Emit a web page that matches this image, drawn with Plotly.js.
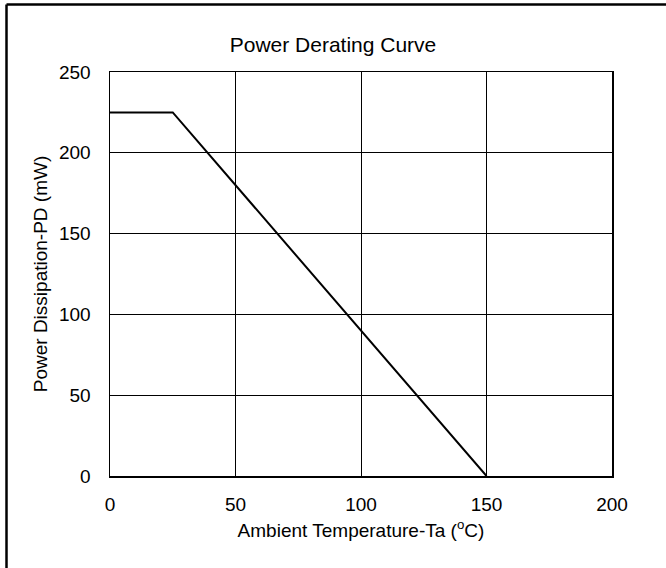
<!DOCTYPE html>
<html>
<head>
<meta charset="utf-8">
<script src="https://cdn.plot.ly/plotly-3.0.1.min.js"></script>
<style>html,body{margin:0;padding:0;background:#fff;}#chart{width:666px;height:568px;}</style>
</head>
<body>
<div id="chart"></div>
<script>
const temperature = [0, 25, 150];
const powerMW = [225, 225, 0];
const xTicks = [0, 50, 100, 150, 200];
const yTicks = [0, 50, 100, 150, 200, 250];

const L = 110, R = 612, T = 72, B = 476, W = 666, H = 568;
const pw = R - L, ph = B - T;
const px = v => (v - L) / pw;
const py = v => (B - v) / ph;

const font = {family: 'Arial, "Liberation Sans", sans-serif', color: '#000'};

Plotly.newPlot('chart', [{
  x: temperature, y: powerMW, type: 'scatter', mode: 'lines',
  line: {color: '#000', width: 2}, hoverinfo: 'skip', showlegend: false
}], {
  width: W, height: H,
  margin: {l: L, r: W - R, t: T, b: H - B, pad: 0},
  paper_bgcolor: '#fff', plot_bgcolor: '#fff',
  font: Object.assign({size: 19}, font),
  title: {text: 'Power Derating Curve', font: Object.assign({size: 21}, font),
          x: 0.5, xanchor: 'center', y: 1 - 45 / H, yanchor: 'middle'},
  xaxis: {
    range: [0, 200], tickvals: xTicks, ticktext: xTicks.map(String),
    showgrid: true, gridcolor: '#000', gridwidth: 1,
    showline: true, linecolor: '#000', linewidth: 1.5, mirror: true,
    ticks: '', ticklabelstandoff: 11, zeroline: false,
    tickfont: Object.assign({size: 19}, font),
    title: {text: 'Ambient Temperature-Ta (<sup>o</sup>C)', font: Object.assign({size: 19}, font), standoff: 9}
  },
  yaxis: {
    range: [0, 250], tickvals: yTicks, ticktext: yTicks.map(String),
    showgrid: true, gridcolor: '#000', gridwidth: 1,
    showline: true, linecolor: '#000', linewidth: 1.5, mirror: true,
    ticks: '', ticklabelstandoff: 14, zeroline: false,
    tickfont: Object.assign({size: 19}, font),
    title: {text: 'Power Dissipation-PD (mW)', font: Object.assign({size: 19}, font), standoff: 6}
  },
  shapes: [
    {type: 'line', xref: 'paper', yref: 'paper', x0: px(6.5), x1: px(6.5), y0: py(H + 10), y1: py(4.5), line: {color: '#000', width: 2.5}},
    {type: 'line', xref: 'paper', yref: 'paper', x0: px(6.5), x1: px(W + 10), y0: py(4.5), y1: py(4.5), line: {color: '#000', width: 2.5}}
  ]
}, {staticPlot: true, displayModeBar: false});
</script>
</body>
</html>
